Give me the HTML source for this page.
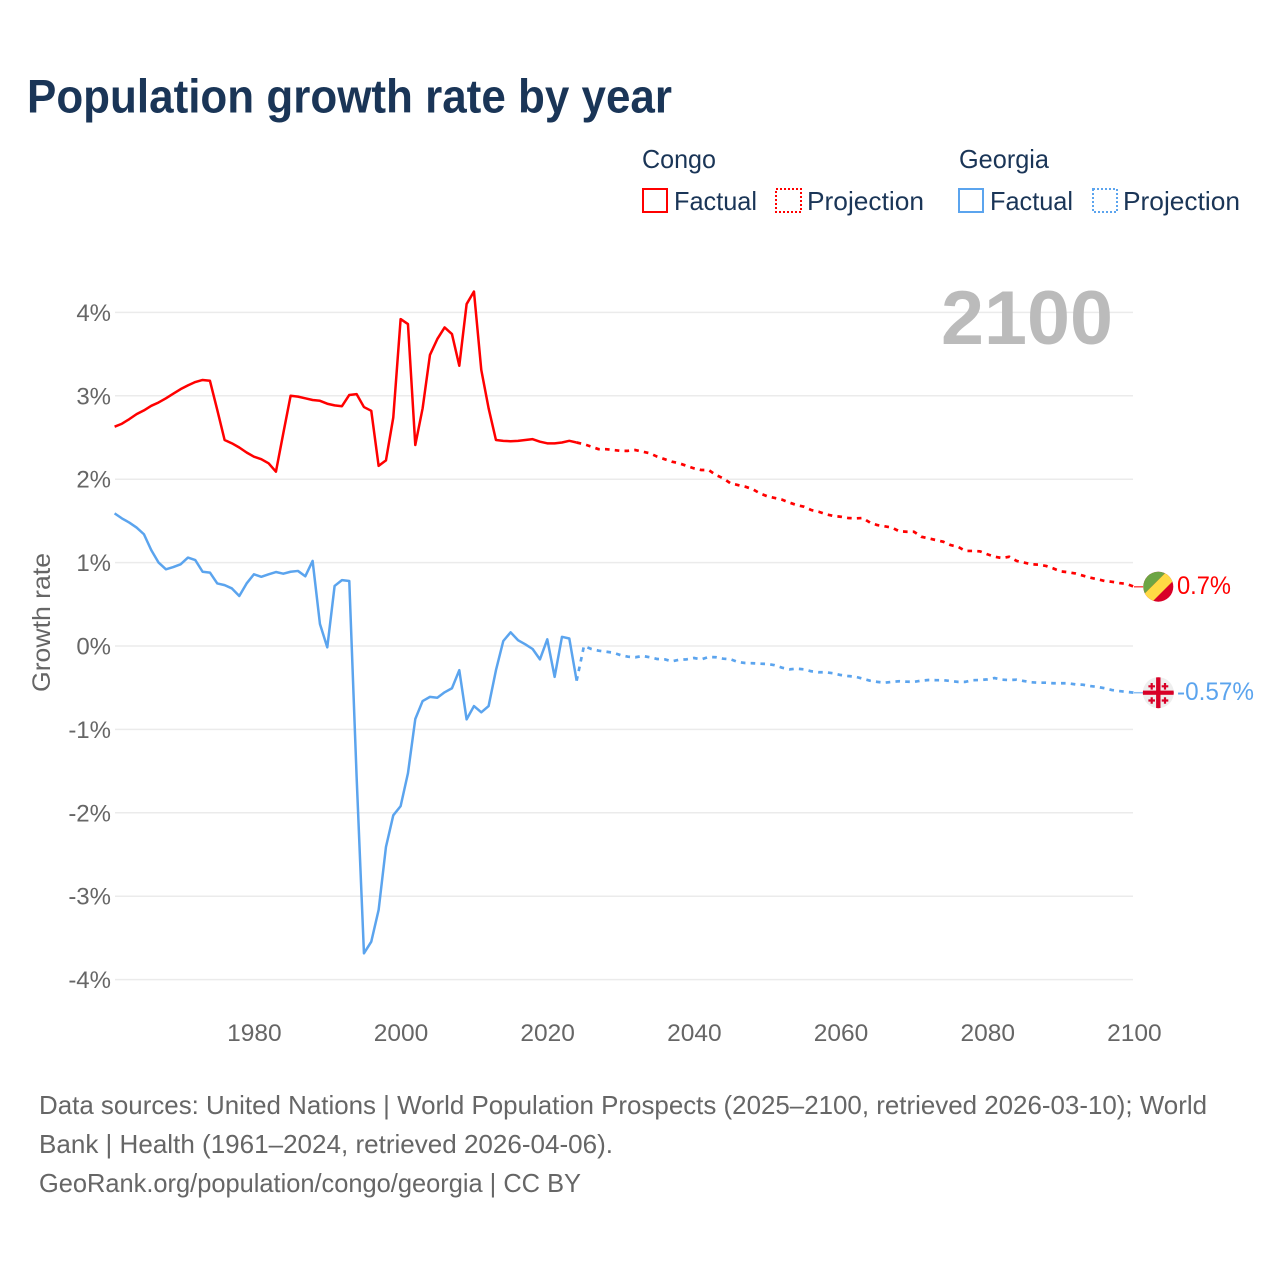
<!DOCTYPE html>
<html lang="en">
<head>
<meta charset="utf-8">
<title>Population growth rate by year</title>
<style>
html,body{margin:0;padding:0;background:#fff;width:1280px;height:1280px;overflow:hidden}
svg{display:block}
text{font-family:"Liberation Sans",sans-serif}
</style>
</head>
<body>
<svg id="chart" xmlns="http://www.w3.org/2000/svg" width="1280" height="1280" viewBox="0 0 1280 1280">
  <defs>
    <clipPath id="flag-clip-congo"><circle cx="1158.3" cy="586.7" r="15"/></clipPath>
    <clipPath id="flag-clip-georgia"><circle cx="1158.3" cy="692.7" r="15.5"/></clipPath>
  </defs>
  <rect width="1280" height="1280" fill="#fff"/>
  <text x="27" y="112.5" font-size="47" font-weight="700" fill="#1a3557" textLength="645" lengthAdjust="spacingAndGlyphs">Population growth rate by year</text>

  <g font-size="26" fill="#1a3557">
    <text x="642" y="168" textLength="74" lengthAdjust="spacingAndGlyphs">Congo</text>
    <rect x="643" y="189" width="24" height="23" fill="none" stroke="#ff0000" stroke-width="2"/>
    <text x="674" y="210" textLength="83" lengthAdjust="spacingAndGlyphs">Factual</text>
    <rect x="776" y="189" width="25" height="23" fill="none" stroke="#ff0000" stroke-width="2" stroke-dasharray="2 2"/>
    <text x="807" y="210" textLength="117" lengthAdjust="spacingAndGlyphs">Projection</text>
    <text x="959" y="168" textLength="90" lengthAdjust="spacingAndGlyphs">Georgia</text>
    <rect x="959" y="189" width="24" height="23" fill="none" stroke="#5ba4ee" stroke-width="2"/>
    <text x="990" y="210" textLength="83" lengthAdjust="spacingAndGlyphs">Factual</text>
    <rect x="1093" y="189" width="24" height="23" fill="none" stroke="#5ba4ee" stroke-width="2" stroke-dasharray="2 2"/>
    <text x="1123" y="210" textLength="117" lengthAdjust="spacingAndGlyphs">Projection</text>
  </g>

  <g id="grid"></g>
  <g id="y-ticks"></g>
  <g id="x-ticks"></g>
  <text transform="translate(50 692) rotate(-90)" font-size="25" fill="#666" textLength="139" lengthAdjust="spacingAndGlyphs">Growth rate</text>
  <text x="941" y="344" font-size="76" font-weight="700" fill="#bbbbbb" textLength="172" lengthAdjust="spacingAndGlyphs">2100</text>

  <g id="series"></g>

  <g clip-path="url(#flag-clip-congo)">
    <rect x="1143" y="571" width="31" height="31" fill="#d80027"/>
    <polygon points="1143,571 1167.3,571 1143,595.3" fill="#6da544"/>
    <polygon points="1143,595.3 1167.3,571 1174,571 1174,580 1152,602 1143,602" fill="#ffda44"/>
  </g>
  <g clip-path="url(#flag-clip-georgia)">
    <rect x="1142" y="677" width="33" height="32" fill="#eeeeee"/>
    <rect x="1156.1" y="677" width="4.4" height="32" fill="#d80027"/>
    <rect x="1142" y="690.6" width="33" height="4.2" fill="#d80027"/>
    <path d="M1150.6 683h2.2v2.2h2.2v2.2h-2.2v2.2h-2.2v-2.2h-2.2v-2.2h2.2zM1163.9 683h2.2v2.2h2.2v2.2h-2.2v2.2h-2.2v-2.2h-2.2v-2.2h2.2zM1150.6 697.2h2.2v2.2h2.2v2.2h-2.2v2.2h-2.2v-2.2h-2.2v-2.2h2.2zM1163.9 697.2h2.2v2.2h2.2v2.2h-2.2v2.2h-2.2v-2.2h-2.2v-2.2h2.2z" fill="#d80027"/>
  </g>
  <text x="1177" y="594" font-size="25" fill="#ff0000" textLength="54" lengthAdjust="spacingAndGlyphs">0.7%</text>
  <text x="1177" y="700" font-size="25" fill="#5ba4ee" textLength="77" lengthAdjust="spacingAndGlyphs">-0.57%</text>

  <g font-size="26" fill="#666">
    <text x="39" y="1114" textLength="1168" lengthAdjust="spacingAndGlyphs">Data sources: United Nations | World Population Prospects (2025–2100, retrieved 2026-03-10); World</text>
    <text x="39" y="1153" textLength="574" lengthAdjust="spacingAndGlyphs">Bank | Health (1961–2024, retrieved 2026-04-06).</text>
    <text x="39" y="1192" textLength="542" lengthAdjust="spacingAndGlyphs">GeoRank.org/population/congo/georgia | CC BY</text>
  </g>
</svg>
<script>
const factualStartYear = 1961;
const projectionStartYear = 2024;
const yTickValues = [4, 3, 2, 1, 0, -1, -2, -3, -4];
const yTickLabels = ['4%', '3%', '2%', '1%', '0%', '-1%', '-2%', '-3%', '-4%'];
const xTickValues = [1980, 2000, 2020, 2040, 2060, 2080, 2100];
const xTickLabels = ['1980', '2000', '2020', '2040', '2060', '2080', '2100'];

const congoFactual = [2.63,2.665,2.72,2.78,2.825,2.88,2.92,2.97,3.025,3.08,3.125,3.165,3.19,3.18,2.83,2.47,2.43,2.38,2.32,2.27,2.24,2.19,2.09,2.55,3.00,2.99,2.97,2.95,2.94,2.905,2.885,2.875,3.01,3.02,2.865,2.82,2.16,2.225,2.74,3.92,3.86,2.41,2.85,3.49,3.68,3.82,3.74,3.36,4.10,4.25,3.31,2.85,2.47,2.46,2.455,2.46,2.47,2.48,2.45,2.43,2.43,2.44,2.46,2.44];
const congoProjection = [2.44,2.42,2.39,2.36,2.36,2.35,2.34,2.34,2.35,2.33,2.31,2.27,2.24,2.21,2.19,2.16,2.13,2.11,2.11,2.05,2.01,1.95,1.93,1.91,1.88,1.83,1.795,1.775,1.755,1.72,1.69,1.67,1.63,1.61,1.58,1.56,1.55,1.535,1.53,1.535,1.48,1.45,1.435,1.42,1.375,1.37,1.37,1.31,1.29,1.27,1.25,1.21,1.19,1.14,1.14,1.135,1.10,1.07,1.055,1.07,1.02,1.00,0.98,0.975,0.96,0.93,0.895,0.885,0.87,0.845,0.82,0.80,0.78,0.77,0.755,0.745,0.71];
const georgiaFactual = [1.59,1.53,1.48,1.42,1.34,1.15,1.00,0.92,0.947,0.98,1.06,1.03,0.89,0.88,0.75,0.73,0.69,0.60,0.75,0.86,0.83,0.86,0.887,0.867,0.89,0.90,0.836,1.02,0.264,-0.016,0.72,0.79,0.78,-1.57,-3.685,-3.545,-3.165,-2.41,-2.03,-1.92,-1.526,-0.875,-0.66,-0.61,-0.62,-0.555,-0.507,-0.29,-0.88,-0.72,-0.795,-0.72,-0.29,0.06,0.164,0.07,0.02,-0.036,-0.16,0.08,-0.37,0.11,0.09,-0.416];
const georgiaProjection = [-0.416,0.00,-0.036,-0.056,-0.068,-0.08,-0.11,-0.128,-0.135,-0.12,-0.135,-0.156,-0.16,-0.183,-0.164,-0.16,-0.144,-0.16,-0.132,-0.135,-0.152,-0.16,-0.192,-0.204,-0.207,-0.212,-0.216,-0.23,-0.26,-0.28,-0.272,-0.28,-0.303,-0.315,-0.315,-0.327,-0.348,-0.36,-0.368,-0.392,-0.416,-0.43,-0.44,-0.43,-0.423,-0.428,-0.43,-0.416,-0.408,-0.41,-0.41,-0.42,-0.43,-0.43,-0.41,-0.408,-0.40,-0.384,-0.404,-0.408,-0.404,-0.42,-0.435,-0.44,-0.44,-0.447,-0.447,-0.447,-0.46,-0.464,-0.48,-0.49,-0.507,-0.528,-0.54,-0.55,-0.56];

const NS = 'http://www.w3.org/2000/svg';
const RED = '#ff0000';
const BLUE = '#5ba4ee';
function xScale(year) { return 114.6 + (year - 1961) * (1134 - 114.6) / (2100 - 1961); }
function yScale(v) { return 646 - v * 83.4; }
function pathFrom(values, startYear) {
  return values.map(function (v, i) {
    return (i ? 'L' : 'M') + xScale(startYear + i).toFixed(2) + ' ' + yScale(v).toFixed(2);
  }).join('');
}

const gridGroup = document.getElementById('grid');
const yGroup = document.getElementById('y-ticks');
const xGroup = document.getElementById('x-ticks');
const seriesGroup = document.getElementById('series');

yTickValues.forEach(function (v, i) {
  const line = document.createElementNS(NS, 'line');
  
  
  line.setAttribute('x1', 115);
  line.setAttribute('x2', 1133);
  line.setAttribute('y1', yScale(v));
  line.setAttribute('y2', yScale(v));
  line.setAttribute('stroke', '#ebebeb');
  line.setAttribute('stroke-width', '1.5');
  gridGroup.appendChild(line);
  const label = document.createElementNS(NS, 'text');
  
  
  label.setAttribute('x', 111);
  label.setAttribute('y', yScale(v) + 8.5);
  label.setAttribute('text-anchor', 'end');
  label.setAttribute('font-size', '24');
  label.setAttribute('fill', '#666');
  label.textContent = yTickLabels[i];
  yGroup.appendChild(label);
});

xTickValues.forEach(function (year, i) {
  const label = document.createElementNS(NS, 'text');
  
  
  label.setAttribute('x', xScale(year) + 0.4);
  label.setAttribute('y', 1041);
  label.setAttribute('text-anchor', 'middle');
  label.setAttribute('font-size', '24.5');
  label.setAttribute('fill', '#666');
  label.textContent = xTickLabels[i];
  xGroup.appendChild(label);
});

function drawLine(values, startYear, color, dashed, name) {
  const path = document.createElementNS(NS, 'path');
  
  
  path.setAttribute('d', pathFrom(values, startYear));
  path.setAttribute('fill', 'none');
  path.setAttribute('stroke', color);
  path.setAttribute('stroke-width', dashed ? '2.7' : '2.5');
  path.setAttribute('stroke-linejoin', 'round');
  if (dashed) { path.setAttribute('stroke-dasharray', '4.6 5.2'); }
  seriesGroup.appendChild(path);
}
function drawConnector(value, color, name) {
  const line = document.createElementNS(NS, 'line');
  
  
  line.setAttribute('x1', xScale(2100));
  line.setAttribute('x2', 1143);
  line.setAttribute('y1', yScale(value));
  line.setAttribute('y2', yScale(value));
  line.setAttribute('stroke', color);
  line.setAttribute('stroke-width', '1.5');
  line.setAttribute('opacity', '0.7');
  seriesGroup.appendChild(line);
}
drawLine(congoProjection, projectionStartYear, RED, true, 'congo-projection-line');
drawLine(georgiaProjection, projectionStartYear, BLUE, true, 'georgia-projection-line');
drawLine(congoFactual, factualStartYear, RED, false, 'congo-factual-line');
drawLine(georgiaFactual, factualStartYear, BLUE, false, 'georgia-factual-line');
drawConnector(congoProjection[congoProjection.length - 1], RED, 'congo-end-connector');
drawConnector(georgiaProjection[georgiaProjection.length - 1], BLUE, 'georgia-end-connector');
</script>
</body>
</html>
